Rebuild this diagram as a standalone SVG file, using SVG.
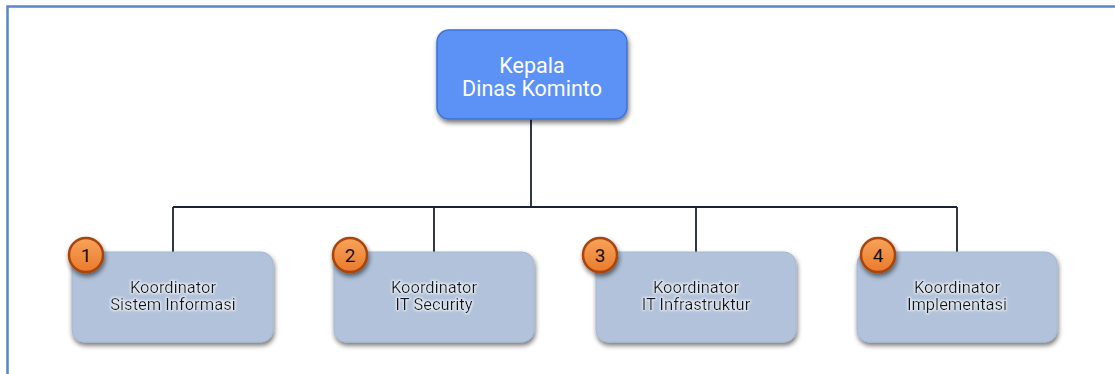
<svg xmlns="http://www.w3.org/2000/svg" width="1115" height="374" viewBox="0 0 1115 374">
<defs>
<filter id="sh" x="-20%" y="-20%" width="140%" height="150%">
<feGaussianBlur in="SourceAlpha" stdDeviation="2.5"/>
<feOffset dx="1" dy="3" result="b"/>
<feComponentTransfer><feFuncA type="linear" slope="0.55"/></feComponentTransfer>
<feMerge><feMergeNode/><feMergeNode in="SourceGraphic"/></feMerge>
</filter>
<filter id="glow" x="-20%" y="-30%" width="140%" height="160%">
<feMorphology in="SourceAlpha" operator="dilate" radius="0.8" result="d"/>
<feGaussianBlur in="d" stdDeviation="1"/>
<feComponentTransfer result="g"><feFuncA type="linear" slope="0.7"/></feComponentTransfer>
<feFlood flood-color="#ffffff"/>
<feComposite operator="in" in2="g"/>
<feMerge><feMergeNode/><feMergeNode in="SourceGraphic"/></feMerge>
</filter>
<linearGradient id="og" x1="0" y1="0" x2="0" y2="1">
<stop offset="0" stop-color="#f7a35a"/>
<stop offset="1" stop-color="#ea7a2c"/>
</linearGradient>
</defs>
<style>
.frame{fill:none;stroke:#5a86c5;stroke-width:2.5}
.conn{fill:none;stroke:#1a2233;stroke-width:1.8}
.top{fill:#5b91f5;stroke:#3d73d6;stroke-width:1.5}
.sub{fill:#b1c2da;stroke:#a6b8d2;stroke-width:1}
.tt{font-family:Roboto,"Liberation Sans",sans-serif;font-size:21.5px;fill:#ffffff;text-anchor:middle}
.st{font-family:Roboto,"Liberation Sans",sans-serif;font-size:16.5px;fill:#11151f;text-anchor:middle}
.badge{fill:url(#og);stroke:#a8440f;stroke-width:2.5}
.bt{font-family:Roboto,"Liberation Sans",sans-serif;font-size:19px;fill:#111111;text-anchor:middle}
</style>
<rect class="frame" x="7.5" y="6.5" width="1120" height="380"/>
<g id="connectors">
<path class="conn" d="M531 118 V207 M173 207 H957 M173 207 V252 M434 207 V252 M696 207 V252 M957 207 V252"/>
</g>
<g id="kepala">
<rect class="top" x="437" y="30" width="190" height="89" rx="12" filter="url(#sh)"/>
<text class="tt" x="532" y="73">Kepala</text>
<text class="tt" x="532" y="96">Dinas Kominto</text>
</g>
<g id="k1">
<rect class="sub" x="72" y="252" width="201" height="90" rx="12" filter="url(#sh)"/>
<g filter="url(#glow)"><text class="st" x="173" y="293">Koordinator</text>
<text class="st" x="173" y="310">Sistem Informasi</text></g>
<circle class="badge" cx="86" cy="255" r="17" filter="url(#sh)"/>
<text class="bt" x="86" y="262">1</text>
</g>
<g id="k2">
<rect class="sub" x="334" y="252" width="200" height="90" rx="12" filter="url(#sh)"/>
<g filter="url(#glow)"><text class="st" x="434" y="293">Koordinator</text>
<text class="st" x="434" y="310">IT Security</text></g>
<circle class="badge" cx="350" cy="255" r="17" filter="url(#sh)"/>
<text class="bt" x="350" y="262">2</text>
</g>
<g id="k3">
<rect class="sub" x="596" y="252" width="200" height="90" rx="12" filter="url(#sh)"/>
<g filter="url(#glow)"><text class="st" x="696" y="293">Koordinator</text>
<text class="st" x="696" y="310">IT Infrastruktur</text></g>
<circle class="badge" cx="600" cy="255" r="17" filter="url(#sh)"/>
<text class="bt" x="600" y="262">3</text>
</g>
<g id="k4">
<rect class="sub" x="857" y="252" width="200" height="90" rx="12" filter="url(#sh)"/>
<g filter="url(#glow)"><text class="st" x="957" y="293">Koordinator</text>
<text class="st" x="957" y="310">Implementasi</text></g>
<circle class="badge" cx="878" cy="255" r="17" filter="url(#sh)"/>
<text class="bt" x="878" y="262">4</text>
</g>
</svg>
